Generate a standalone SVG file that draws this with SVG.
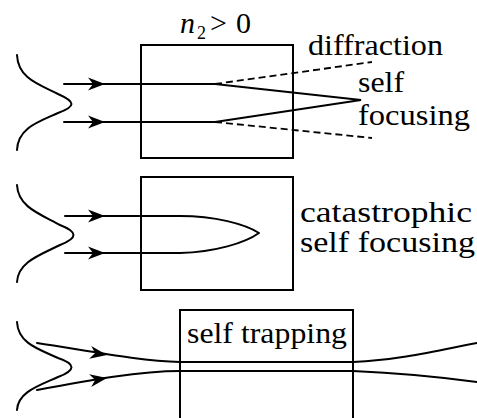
<svg xmlns="http://www.w3.org/2000/svg" xmlns:xlink="http://www.w3.org/1999/xlink" width="477" height="418" viewBox="0 0 477 418">
<style>
.box{fill:none;stroke:#000;stroke-width:2}
.ln{fill:none;stroke:#000;stroke-width:2;stroke-linecap:round;stroke-linejoin:round}
.dash{fill:none;stroke:#000;stroke-width:1.8;stroke-dasharray:7,4}
.lbl{font-family:'Liberation Serif','DejaVu Serif','Noto Serif','Nimbus Roman','FreeSerif','Times New Roman',Times,serif;fill:#000}
</style>
<defs>
<path id="ah" d="M0,0 L-17,-6.5 L-12,0 L-17,6.5 Z" fill="#000"/>
</defs>
<rect width="477" height="418" fill="#fff"/>

<g id="label-n2" class="lbl" font-size="30">
<text x="180" y="33" font-style="italic">n</text>
<text x="197" y="39" font-size="18">2</text>
<text x="210" y="33">&gt;</text>
<text x="236" y="33">0</text>
</g>

<g id="profile1"><path class="ln" d="M17,55 C18,78 38,84 58,94 C76,102 76,106 58,113 C38,122 18,128 17,150"/></g>
<g id="profile2"><path class="ln" d="M17,185 C18,207 40,214 60,225 C78,232 78,238 60,245 C40,255 18,262 17,282"/></g>
<g id="profile3"><path class="ln" d="M17,322 C18,343 38,349 58,358 C76,364 76,370 58,377 C38,386 18,392 17,410"/></g>

<g id="box1" class="lbl" font-size="30">
<rect class="box" x="141" y="45" width="152" height="113"/>
<text x="308" y="55" textLength="135" lengthAdjust="spacingAndGlyphs">diffraction</text>
<text x="358" y="92" textLength="46" lengthAdjust="spacingAndGlyphs">self</text>
<text x="358" y="125" textLength="112" lengthAdjust="spacingAndGlyphs">focusing</text>
</g>

<g id="box2" class="lbl" font-size="29">
<rect class="box" x="141" y="177" width="152" height="113"/>
<text x="300" y="222" textLength="172" lengthAdjust="spacingAndGlyphs">catastrophic</text>
<text x="300" y="252" textLength="175" lengthAdjust="spacingAndGlyphs">self focusing</text>
</g>

<g id="box3" class="lbl" font-size="30">
<path class="box" d="M180,420 L180,310 L353,310 L353,420"/>
<text x="187" y="343" textLength="160" lengthAdjust="spacingAndGlyphs">self trapping</text>
</g>

<g id="connectors">
<path class="ln" d="M64,84 L215,84 L361,100 L215,122 L64,122" style="stroke-linejoin:miter"/>
<path class="dash" d="M215,84 L372,62"/>
<path class="dash" d="M215,122 L372,138"/>
<use xlink:href="#ah" transform="translate(105,84)"/>
<use xlink:href="#ah" transform="translate(105,122)"/>

<path class="ln" d="M65,216 L180,216 C215,216 245,224 259,233 C245,243 215,252 180,253 L65,253"/>
<use xlink:href="#ah" transform="translate(105,216)"/>
<use xlink:href="#ah" transform="translate(105,253)"/>

<path class="ln" d="M37,343 C90,351 140,361 180,362 L353,362 C400,360 440,350 477,343"/>
<path class="ln" d="M37,390 C90,380 140,371 180,371 L353,371 C400,373 440,377 477,382"/>
<use xlink:href="#ah" transform="translate(107,355) rotate(9)"/>
<use xlink:href="#ah" transform="translate(107,378) rotate(-9)"/>
</g>
</svg>
